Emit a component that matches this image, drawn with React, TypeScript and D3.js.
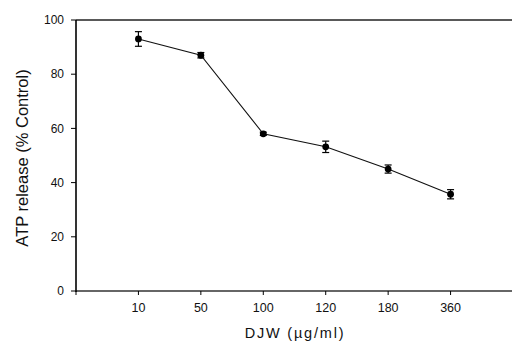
import React from 'react';
import * as d3 from 'd3';

const doses = ['10', '50', '100', '120', '180', '360'];
const atpRelease = [93, 87, 58, 53.2, 45, 35.7];
const atpError = [2.7, 1.0, 0.6, 2.1, 1.5, 1.7];
const yTicks = [0, 20, 40, 60, 80, 100];

const W = 512;
const H = 345;
const left = 76;
const top = 20;
const bottom = 291;

const App = () => {
  const x = d3.scalePoint<string>().domain(doses).range([left, 513]).padding(1);
  const y = d3.scaleLinear().domain([0, 100]).range([bottom, top]);

  const pts = doses.map((d, i) => ({ d, v: atpRelease[i], e: atpError[i] }));
  const line = d3
    .line<{ d: string; v: number }>()
    .x((p) => x(p.d) as number)
    .y((p) => y(p.v));

  const font = 'Arial, "Liberation Sans", sans-serif';

  return (
    <svg
      width={W}
      height={H}
      style={{ position: 'absolute', left: 0, top: 0, background: '#fff' }}
      fontFamily={font}
    >
      {/* frame: top line, bottom axis, left axis */}
      <line x1={left} x2={W} y1={top} y2={top} stroke="#222" strokeWidth={1.4} />
      <line x1={left} x2={W} y1={bottom} y2={bottom} stroke="#333" strokeWidth={1.4} />
      <line x1={left} x2={left} y1={top} y2={bottom + 1} stroke="#000" strokeWidth={1.6} />

      {yTicks.map((t) => (
        <g key={t}>
          <line x1={left - 5} x2={left} y1={y(t)} y2={y(t)} stroke="#000" strokeWidth={1} />
          <text x={left - 12} y={y(t)} dy="0.35em" textAnchor="end" fontSize={12} fill="#111">
            {t}
          </text>
        </g>
      ))}

      <line x1={left} x2={left} y1={bottom} y2={bottom + 4} stroke="#000" strokeWidth={1} />
      {doses.map((d) => (
        <g key={d}>
          <line x1={x(d)} x2={x(d)} y1={bottom} y2={bottom + 4} stroke="#000" strokeWidth={1} />
          <text x={x(d)} y={312} textAnchor="middle" fontSize={12.5} fill="#111">
            {d}
          </text>
        </g>
      ))}

      <path d={line(pts) ?? ''} fill="none" stroke="#111" strokeWidth={1.1} />

      {pts.map((p) => {
        const cx = x(p.d) as number;
        return (
          <g key={p.d}>
            <line x1={cx} x2={cx} y1={y(p.v + p.e)} y2={y(p.v - p.e)} stroke="#000" strokeWidth={1.2} />
            <line x1={cx - 3.5} x2={cx + 3.5} y1={y(p.v + p.e)} y2={y(p.v + p.e)} stroke="#000" strokeWidth={1.2} />
            <line x1={cx - 3.5} x2={cx + 3.5} y1={y(p.v - p.e)} y2={y(p.v - p.e)} stroke="#000" strokeWidth={1.2} />
            <circle cx={cx} cy={y(p.v)} r={3.4} fill="#000" />
          </g>
        );
      })}

      <text
        transform="translate(28,158) rotate(-90)"
        textAnchor="middle"
        fontSize={16.5}
        fill="#111"
      >
        ATP release (% Control)
      </text>
      <text x={295} y={338} textAnchor="middle" fontSize={14.5} letterSpacing={1.8} fill="#111">
        DJW (µg/ml)
      </text>
    </svg>
  );
};

export default App;
